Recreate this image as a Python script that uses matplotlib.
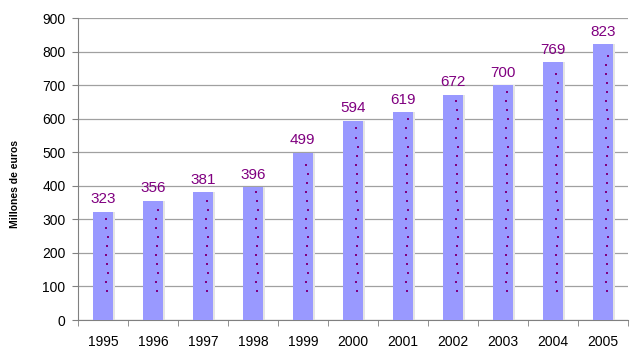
import numpy as np
import matplotlib.pyplot as plt

plt.rcParams['font.family'] = ['Liberation Sans', 'DejaVu Sans']

years = ['1995', '1996', '1997', '1998', '1999', '2000', '2001', '2002', '2003', '2004', '2005']
values = [323, 356, 381, 396, 499, 594, 619, 672, 700, 769, 823]

fig = plt.figure(figsize=(6.36, 3.62), dpi=100)
ax = fig.add_axes([0.1226, 0.116, 0.8644, 0.834])

x = np.arange(len(years))
# sombra suave a la derecha
ax.bar(x + 0.04, values, width=0.4, color='#E4E4E4', zorder=2)
ax.bar(x, values, width=0.4, color='#9999FF', zorder=3)

# puntitos de la trama
for xi, v in zip(x, values):
    ys = np.arange(85, v - 10, 27)
    ax.scatter(xi + 0.08 + 0.02 * np.sin(ys), ys, s=1.2, color='#800080', marker='s', lw=0, zorder=4)

for xi, v in zip(x, values):
    ax.text(xi, v + 16, str(v), ha='center', va='bottom', fontsize=11, color='#800080', zorder=5)

ax.set_xlim(-0.5, len(years) - 0.5)
ax.set_ylim(0, 900)
ax.set_yticks(range(0, 901, 100))
ax.set_xticks(x)
ax.set_xticklabels(years)
ax.set_xticks(np.arange(-0.5, len(years), 1), minor=True)
ax.tick_params(axis='x', which='major', length=0, labelsize=10, pad=11)
ax.tick_params(axis='x', which='minor', length=4, color='#808080', direction='out')
ax.tick_params(axis='y', length=4, color='#808080', labelsize=10, pad=5)

ax.grid(axis='y', color='#A0A0A0', lw=0.9, zorder=1)
for s in ['top', 'right']:
    ax.spines[s].set_visible(False)
for s in ['left', 'bottom']:
    ax.spines[s].set_color('#808080')

ax.set_ylabel('Millones de euros', fontsize=7.5, fontweight='bold')
ax.yaxis.set_label_coords(-0.105, 0.45)

fig.savefig('out.png', dpi=100)
